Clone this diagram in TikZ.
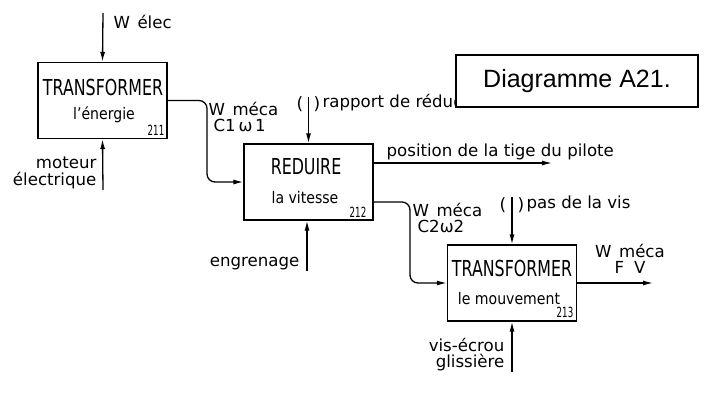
\documentclass[tikz,border=0pt]{standalone}
\usepackage{fontspec}
\setmainfont{DejaVu Sans}
\newfontfamily\arialf{Liberation Sans}
\newfontfamily\titf[FakeStretch=0.72]{DejaVu Sans}
\newfontfamily\subf[FakeStretch=0.88]{DejaVu Sans}
\newfontfamily\numf[FakeStretch=0.62]{DejaVu Sans}
\usetikzlibrary{arrows.meta}
\begin{document}
\begin{tikzpicture}[x=1pt,y=-1pt,line width=1.3pt,
  blk/.style={draw,minimum width=129pt,minimum height=76pt,inner sep=0pt},
  tit/.style={inner sep=0pt,font=\titf\fontsize{22}{24}\selectfont},
  sub/.style={inner sep=0pt,font=\subf\fontsize{16}{18}\selectfont},
  num/.style={inner sep=0pt,font=\numf\fontsize{14}{15}\selectfont},
  lab/.style={inner sep=0pt,font=\fontsize{16.6}{19}\selectfont},
  par/.style={inner sep=0pt,font=\fontsize{17}{19}\selectfont},
  arr/.style={-{Latex[length=10pt,width=5pt]}},
  flow/.style={arr,rounded corners=8pt}]
\useasboundingbox (0,0) rectangle (708,398);

% blocks
\node[blk] (b1) at (102.5,100.5) {};
\node[blk] (b2) at (308.5,182) {};
\node[blk] (b3) at (512,283) {};

% block texts
\node[tit] (t1) at (103,87) {TRANSFORMER};
\node[sub] (s1) at (104,115) {l’énergie};
\node[num] (n1) at (156,130) {211};
\node[tit] (t2) at (306,167) {REDUIRE};
\node[sub] (s2) at (305,198) {la vitesse};
\node[num] (n2) at (358,212) {212};
\node[tit] (t3) at (512,268) {TRANSFORMER};
\node[sub] (s3) at (509,299) {le mouvement};
\node[num] (n3) at (565,312) {213};

% inputs / outputs
\coordinate (welec) at (103,13);
\draw[arr] (welec) -- (b1.north);
\node[lab,anchor=west] (lwelec) at (113,22) {W\hspace{0.45em}élec};

\coordinate (mot) at (103,190);
\draw[arr] (mot) -- (b1.south);
\node[lab,anchor=east,align=right] (lmot) at (97,173) {moteur\\[-2pt]électrique};

\draw[flow] (b1.east) -- (207,100.5) -- (207,182) -- (b2.west);
\node[lab,anchor=west,align=left] (lw1) at (208,117) {W\hspace{0.45em}méca\\[-3pt]\hspace{0.3em}C1\,ω\,1};

\coordinate (rap) at (308.5,97);
\draw[arr] (rap) -- (b2.north);
\node[par] (p1a) at (300,104) {(};
\node[par] (p1b) at (317,104) {)};
\node[lab,anchor=west] (lrap) at (322,103) {rapport de réduction};

\coordinate (pos) at (552,163);
\draw[arr] ([yshift=19pt]b2.east) -- (pos);
\node[lab,anchor=west] (lpos) at (386,152) {position de la tige du pilote};

\coordinate (eng) at (307,271);
\draw[arr] (eng) -- (b2.south -| eng);
\node[lab,anchor=east] (leng) at (300,264) {engrenage};

\draw[flow] ([yshift=-20pt]b2.east) -- (410,202) -- (410,283) -- (b3.west);
\node[lab,anchor=west,align=left] (lw2) at (412,218) {W\hspace{0.45em}méca\\[-3pt]\hspace{0.3em}C2ω2};

\coordinate (pas) at (512,197);
\draw[arr] (pas) -- (b3.north);
\node[par] (p2a) at (503,205) {(};
\node[par] (p2b) at (521,205) {)};
\node[lab,anchor=west] (lpas) at (526,204) {pas de la vis};

\coordinate (out3) at (653,283);
\draw[arr] (b3.east) -- (out3);
\node[lab,align=center] (lw3) at (630,259) {W\hspace{0.45em}méca\\[-3pt]F\hspace{0.6em}V};

\coordinate (vis) at (512,372);
\draw[arr] (vis) -- (b3.south);
\node[lab,anchor=east,align=right] (lvis) at (505,355) {vis-écrou\\[-3pt]glissière};

% title box
\node[draw,fill=white,line width=1.4pt,minimum width=242pt,minimum height=52pt,inner sep=0pt,
  font=\arialf\fontsize{25}{28}\selectfont] (diag) at (577,81) {Diagramme A21.};
\end{tikzpicture}
\end{document}
